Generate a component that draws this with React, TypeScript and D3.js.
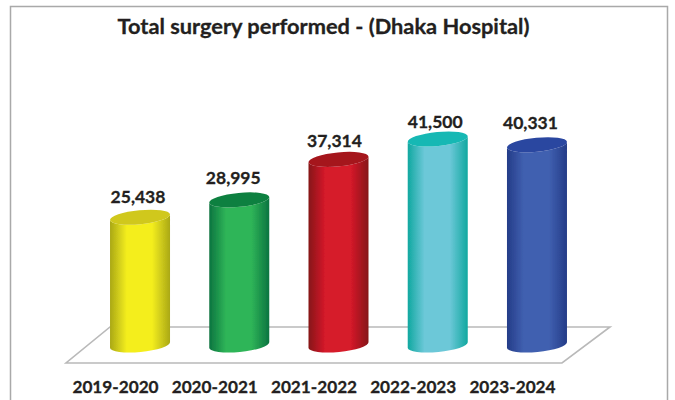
import React from "react";
import * as d3 from "d3";

const title = "Total surgery performed - (Dhaka Hospital)";
const categories = ["2019-2020", "2020-2021", "2021-2022", "2022-2023", "2023-2024"];
const surgeries = [25438, 28995, 37314, 41500, 40331];
const sideEdge = ["#aaa818", "#0b7440", "#861218", "#10a8a0", "#243c88"];
const sideMid = ["#f4ee1c", "#2fb558", "#d61a2a", "#6cc8d8", "#4060b0"];
const capFill = ["#d0c81c", "#11803f", "#a5141c", "#14b8b4", "#2c47a0"];

const fontFamily = "Lato, Carlito, 'Open Sans', sans-serif";
const W = 675;
const H = 400;
const cylW = 60;
const ry = 7;
const tilt = -5.5;
const labelDx = [-2, -6, -4, -2.5, -6.5];
const labelDy = [-14, -16, -12, -11, -15.5];

const x = d3.scaleBand<string>().domain(categories).range([90.4, 586.6]);
const y = d3.scaleLinear().domain([0, 41500]).range([341, 139]);
const fmt = d3.format(",");

function ends(cx: number, cy: number) {
  const rad = (tilt * Math.PI) / 180;
  const rx = cylW / 2 / Math.cos(rad);
  const dx = rx * Math.cos(rad);
  const dy = rx * Math.sin(rad);
  return { rx, l: [cx - dx, cy - dy], r: [cx + dx, cy + dy] };
}

function sidePath(cx: number, top: number, base: number) {
  const t = ends(cx, top);
  const b = ends(cx, base);
  return `M${t.l[0]},${t.l[1]} L${b.l[0]},${b.l[1]} A${b.rx},${ry} ${tilt} 0 0 ${b.r[0]},${b.r[1]} L${t.r[0]},${t.r[1]} A${t.rx},${ry} ${tilt} 0 1 ${t.l[0]},${t.l[1]} Z`;
}

function capPath(cx: number, top: number) {
  const t = ends(cx, top);
  return `M${t.l[0]},${t.l[1]} A${t.rx},${ry} ${tilt} 1 1 ${t.r[0]},${t.r[1]} A${t.rx},${ry} ${tilt} 1 1 ${t.l[0]},${t.l[1]} Z`;
}

export default function App() {
  const floor = d3.line()([[66, 363], [562, 363], [610, 327], [110, 327]]) + "Z";
  const textStroke = { stroke: "#231f20", strokeWidth: 0.3 };
  return (
    <svg width={W} height={H} style={{ position: "fixed", left: 0, top: 0, background: "#fff" }} fontFamily={fontFamily}>
      <defs>
        {categories.map((c, i) => (
          <linearGradient key={c} id={`g${i}`} x1="0" x2="1" y1="0" y2="0">
            <stop offset="0" stopColor={sideEdge[i]} />
            <stop offset="0.28" stopColor={sideMid[i]} />
            <stop offset="0.7" stopColor={sideMid[i]} />
            <stop offset="1" stopColor={sideEdge[i]} />
          </linearGradient>
        ))}
        <filter id="soft" x="-5%" y="-5%" width="110%" height="110%">
          <feGaussianBlur stdDeviation="0.5" />
        </filter>
      </defs>
      <path d={`M10.5,${H} V6.5 H667.5 V${H}`} fill="none" stroke="#a9a9a9" strokeWidth={1.5} />
      <path d={floor} fill="#fff" stroke="#b9b9b9" strokeWidth={1.6} />
      <g filter="url(#soft)">
        {categories.map((c, i) => {
          const cx = x(c)! + x.bandwidth() / 2;
          const top = y(surgeries[i]);
          const base = y(0) + 4;
          return (
            <g key={c}>
              <path d={sidePath(cx, top, base)} fill={`url(#g${i})`} />
              <path d={capPath(cx, top)} fill={capFill[i]} />
            </g>
          );
        })}
      </g>
      <text x={323.5} y={34} textAnchor="middle" fontSize={21.8} fontWeight={700} fill="#231f20" {...textStroke}>{title}</text>
      {categories.map((c, i) => (
        <text key={c} x={x(c)! + x.bandwidth() / 2 + labelDx[i]} y={y(surgeries[i]) + labelDy[i]} textAnchor="middle" fontSize={17.5} fontWeight={700} fill="#231f20" {...textStroke}>
          {fmt(surgeries[i])}
        </text>
      ))}
      {categories.map((c) => (
        <text key={c} x={x(c)! + x.bandwidth() / 2 - 24.5} y={393} textAnchor="middle" fontSize={17.2} fontWeight={700} fill="#231f20" {...textStroke}>
          {c}
        </text>
      ))}
    </svg>
  );
}
